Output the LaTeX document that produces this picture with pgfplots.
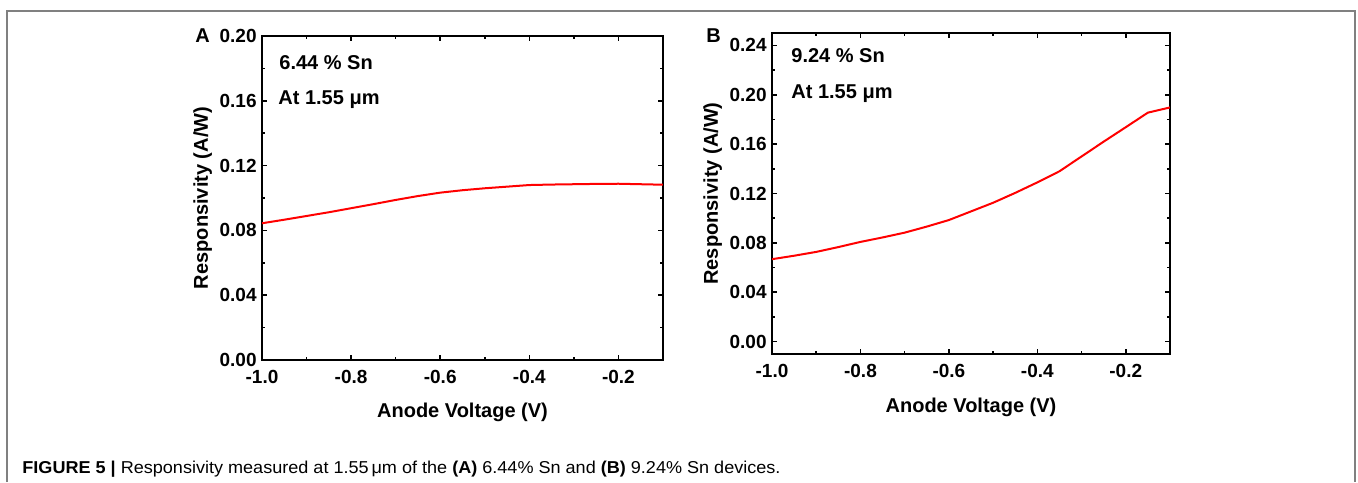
\documentclass[border=0pt]{standalone}
\usepackage{fontspec}
\setmainfont{Liberation Sans}
\newfontfamily\capfont[FakeStretch=1.05]{Liberation Sans}
\usepackage{pgfplots}
\pgfplotsset{compat=1.18}

\pgfplotsset{
  resp/.style={
    scale only axis,
    axis line style={line width=1pt},
    every tick/.style={line width=0.8pt, black},
    tick align=inside,
    major tick length=2.5pt,
    minor tick length=1.5pt,
    xmin=-1, xmax=-0.1,
    xtick={-1,-0.8,-0.6,-0.4,-0.2},
    xticklabels={-1.0,-0.8,-0.6,-0.4,-0.2},
    minor x tick num=1,
    minor y tick num=1,
    x tick label style={font=\fontsize{9.5}{11}\selectfont\bfseries, anchor=base, yshift=-11.5pt},
    y tick label style={font=\fontsize{9.5}{11}\selectfont\bfseries, anchor=east, inner xsep=0pt, xshift=-2.5pt},
    label style={font=\fontsize{10}{12}\selectfont\bfseries},
    xlabel={Anode Voltage (V)},
    ylabel={Responsivity (A/W)},
  }
}

\begin{document}
\begin{tikzpicture}
\useasboundingbox (0,0) rectangle (679pt,241pt);
\draw[gray, line width=0.8pt] (3.5pt,0) -- (3.5pt,235.5pt) -- (677.5pt,235.5pt) -- (677.5pt,0);

% panel A
\begin{axis}[resp,
  at={(131pt,61pt)}, anchor=south west,
  width=200.5pt, height=162pt,
  ymin=0, ymax=0.20,
  ytick={0,0.04,0.08,0.12,0.16,0.20},
  yticklabels={0.00,0.04,0.08,0.12,0.16,0.20},
  xlabel style={at={(axis description cs:0.5,-0.176)}, anchor=base},
  ylabel style={at={(axis description cs:-0.135,0.5)}, anchor=base, rotate=0},
]
\addplot[red, line width=1pt, no markers] coordinates {
  (-1.0,0.0844) (-0.95,0.0866) (-0.9,0.0889) (-0.85,0.0912) (-0.8,0.0937)
  (-0.75,0.0962) (-0.7,0.0988) (-0.65,0.1012) (-0.6,0.1033) (-0.55,0.1048)
  (-0.5,0.1060) (-0.45,0.1070) (-0.4,0.1080) (-0.35,0.1083) (-0.3,0.1085)
  (-0.25,0.1087) (-0.2,0.1088) (-0.15,0.1085) (-0.1,0.1082)
};
\end{axis}

% panel B
\begin{axis}[resp,
  at={(386pt,64pt)}, anchor=south west,
  width=199pt, height=160.5pt,
  ymin=-0.01, ymax=0.25,
  ytick={0,0.04,0.08,0.12,0.16,0.20,0.24},
  yticklabels={0.00,0.04,0.08,0.12,0.16,0.20,0.24},
  xlabel style={at={(axis description cs:0.5,-0.181)}, anchor=base},
  ylabel style={at={(axis description cs:-0.136,0.5)}, anchor=base, rotate=0},
]
\addplot[red, line width=1pt, no markers] coordinates {
  (-1.0,0.0668) (-0.95,0.0696) (-0.9,0.0727) (-0.85,0.0766) (-0.8,0.0808)
  (-0.75,0.0844) (-0.7,0.0883) (-0.65,0.0932) (-0.6,0.0985) (-0.55,0.1055)
  (-0.5,0.1125) (-0.45,0.1205) (-0.4,0.1290) (-0.35,0.1380) (-0.3,0.1500)
  (-0.25,0.1620) (-0.2,0.1737) (-0.15,0.1855) (-0.1,0.1897)
};
\end{axis}

\begin{scope}[every node/.style={inner sep=0pt, anchor=base west, font=\fontsize{10}{12}\selectfont\bfseries}]
\node at (97.5pt,219.5pt) {A};
\node at (353pt,219.5pt) {B};
\node at (139.5pt,206pt) {6.44 \% Sn};
\node at (139pt,188.5pt) {At 1.55 μm};
\node at (395.5pt,209.5pt) {9.24 \% Sn};
\node at (395.5pt,191.5pt) {At 1.55 μm};
\node[font=\capfont\fontsize{8.6}{10}\selectfont] at (11pt,4.5pt) {\textbf{FIGURE 5 |} Responsivity measured at 1.55\,μm of the \textbf{(A)} 6.44\% Sn and \textbf{(B)} 9.24\% Sn devices.};
\end{scope}
\end{tikzpicture}
\end{document}
